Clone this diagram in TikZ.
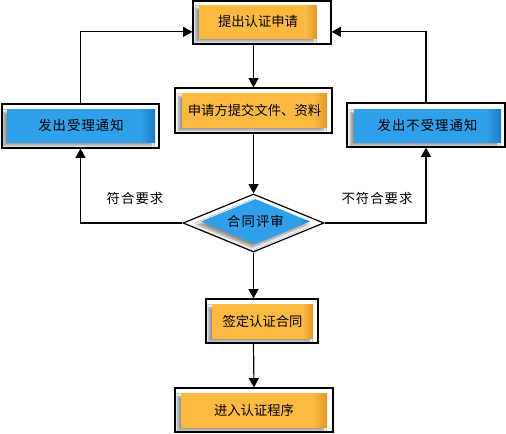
\documentclass[tikz,border=0pt]{standalone}
\usepackage{fontspec}
\setmainfont{Noto Sans CJK SC}
\newfontfamily\widecjk[LetterSpace=8]{Noto Sans CJK SC}
\usetikzlibrary{shapes.geometric,arrows.meta,shadows.blur}
\definecolor{orA}{RGB}{252,186,66}
\definecolor{orB}{RGB}{226,150,40}
\definecolor{blA}{RGB}{48,160,234}
\definecolor{blB}{RGB}{30,122,200}
\pgfdeclarehorizontalshading{orsh}{100bp}{color(0bp)=(orA); color(70bp)=(orA); color(75bp)=(orB); color(100bp)=(orB)}
\pgfdeclarehorizontalshading{blsh}{100bp}{color(0bp)=(blA); color(70bp)=(blA); color(75bp)=(blB); color(100bp)=(blB)}
\begin{document}
\begin{tikzpicture}[x=0.75pt,y=-0.75pt,
  outer/.style={draw=black,line width=0.9pt,fill=white,inner sep=0pt},
  inbox/.style={inner sep=0pt,font=\fontsize{10}{12}\selectfont,
    blur shadow={shadow xshift=-2.5pt,shadow yshift=-2.5pt,shadow opacity=45,shadow blur steps=6}},
  org/.style={inbox,shade,shading=orsh},
  blu/.style={inbox,shade,shading=blsh,font=\widecjk\fontsize{10}{12}\selectfont},
  conn/.style={line width=0.9pt,-{Triangle[length=7pt,width=7.5pt]}},
  lbl/.style={font=\widecjk\fontsize{10}{12}\selectfont}]
\useasboundingbox (0,0) rectangle (506,433);
% boxes
\node[outer,minimum width=103.5pt,minimum height=32.25pt] (top) at (262,22.5) {};
\node[org,minimum width=88.5pt,minimum height=24.75pt] (topi) at (258,21.5) {提出认证申请};
\node[outer,minimum width=117.75pt,minimum height=33.75pt] (sub) at (253.5,110.5) {};
\node[org,minimum width=108.75pt,minimum height=25.5pt] (subi) at (254.5,110) {申请方提交文件、资料};
\node[outer,minimum width=117.75pt,minimum height=33pt] (acc) at (80.5,126) {};
\node[blu,minimum width=111pt,minimum height=24.75pt] (acci) at (81,125.5) {发出受理通知};
\node[outer,minimum width=118.5pt,minimum height=33pt] (rej) at (426,125) {};
\node[blu,minimum width=110.25pt,minimum height=24.75pt] (reji) at (427.5,125.5) {发出不受理通知};
\node[outer,diamond,minimum width=105.75pt,minimum height=43.5pt] (dia) at (253.5,223) {};
\node[blu,diamond,shape aspect=2.4,minimum width=81.75pt,minimum height=33.75pt] (diai) at (255.5,221.5) {合同评审};
\node[outer,minimum width=84pt,minimum height=33pt] (sign) at (262,321) {};
\node[org,minimum width=75.75pt,minimum height=25.5pt] (signi) at (262.5,321) {签定认证合同};
\node[outer,minimum width=118.5pt,minimum height=33pt] (last) at (254,410) {};
\node[org,minimum width=109.5pt,minimum height=25.5pt] (lasti) at (254,410) {进入认证程序};
% labels
\node[lbl] (l1) at (135,198) {符合要求};
\node[lbl] (l2) at (377,198) {不符合要求};
% connectors
\draw[conn] (sub.north |- top.south) -- (sub.north);
\draw[conn] (sub.south) -- (dia.north);
\draw[conn] (dia.south) -- (dia.south |- sign.north);
\draw[conn] (dia.south |- sign.south) -- (last.north);
\draw[conn] (dia.west) -| (acc.south);
\draw[conn] (dia.east) -| (rej.south);
\draw[conn] (acc.north) |- ([yshift=-7pt]top.west);
\draw[conn] (rej.north) |- ([yshift=-7pt]top.east);
\end{tikzpicture}
\end{document}
